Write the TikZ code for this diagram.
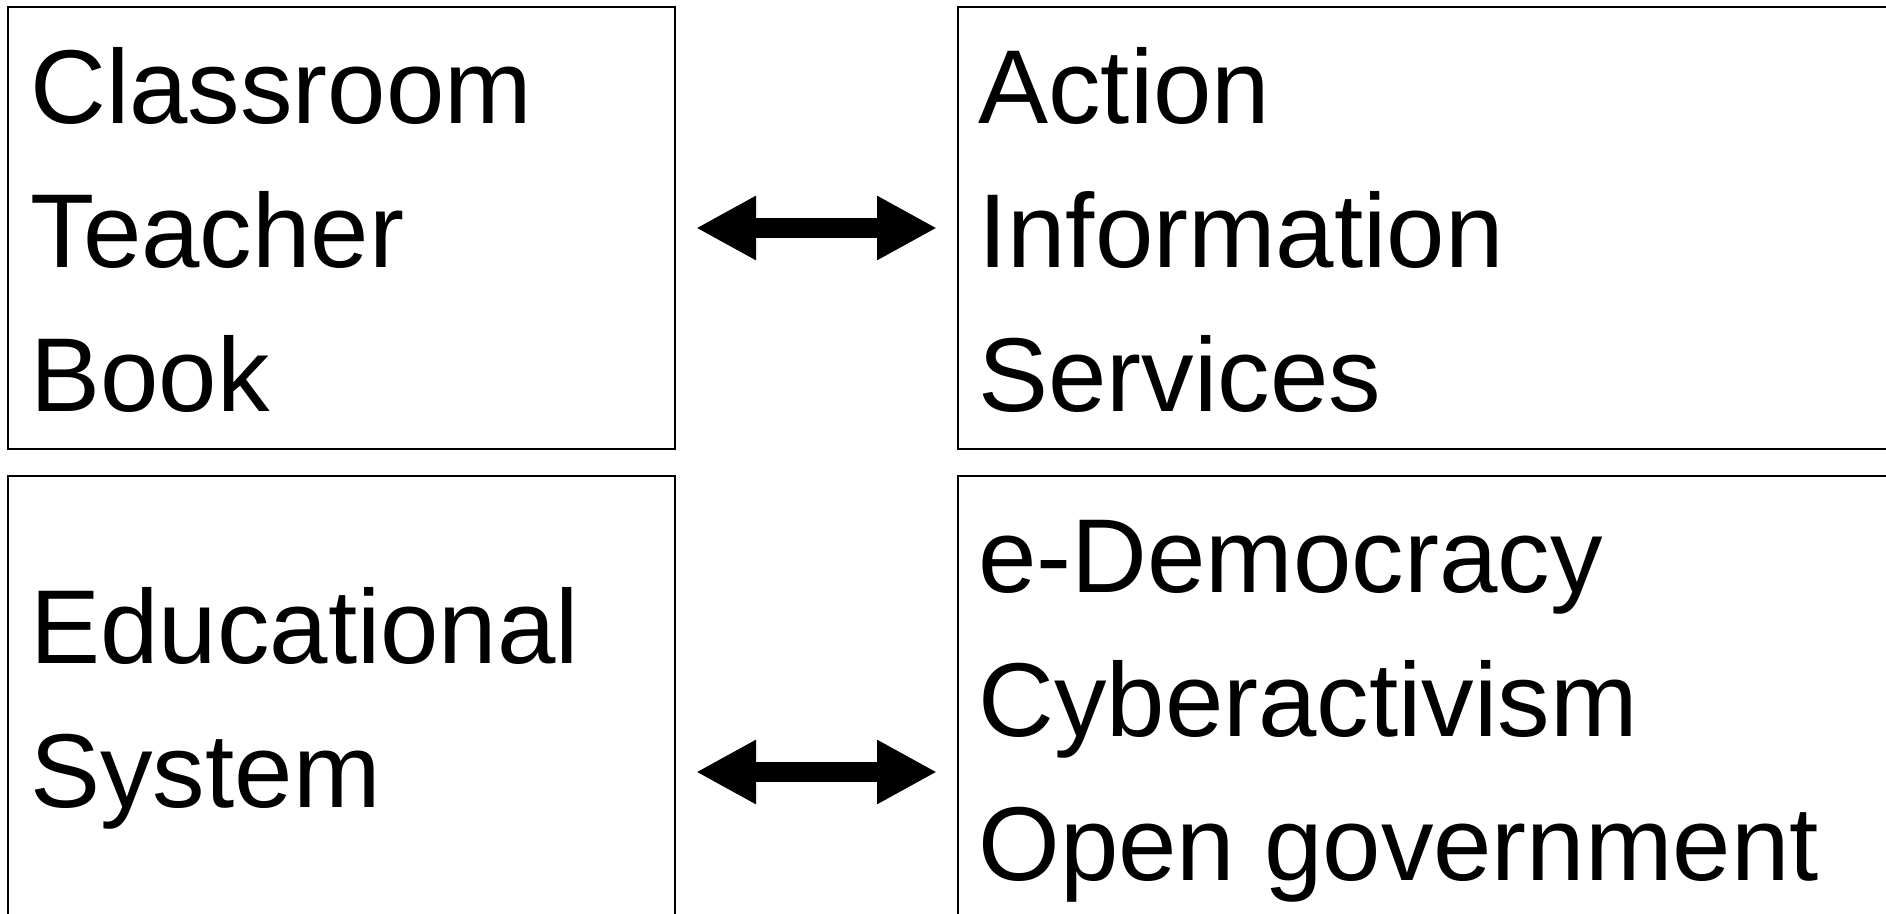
\documentclass[tikz,border=0pt]{standalone}
\usepackage{fontspec}
\setmainfont{Liberation Sans}
\usetikzlibrary{arrows.meta}
\begin{document}
\begin{tikzpicture}[x=0.5pt,y=-0.5pt,
  box/.style={draw, line width=0.8pt, rectangle, inner sep=0pt, outer sep=0pt, anchor=north west},
  txt/.style={align=left, anchor=base west, inner sep=0pt, font=\fontsize{52.5}{72}\selectfont},
  dblarrow/.style={line width=10pt, {Triangle[length=30pt,width=30pt]}-{Triangle[length=30pt,width=30pt]}, shorten <=10.5pt, shorten >=10.5pt}]
\useasboundingbox (0,0) rectangle (1886,914);
\clip (0,0) rectangle (1886,914);
\node[box, minimum width=333.5pt, minimum height=221pt] (bx0) at (8,7){};
\node[box, minimum width=471pt, minimum height=221pt] (bx1) at (958,7){};
\node[box, minimum width=333.5pt, minimum height=296pt] (bx2) at (8,476){};
\node[box, minimum width=471pt, minimum height=296pt] (bx3) at (958,476){};
% anchor is the baseline of the last line
\node[txt] (tx0) at (30,412) {Classroom\\Teacher\\Book};
\node[txt] (tx1) at (978,412) {Action\\Information\\Services};
\node[txt] (tx2) at (30,807) {Educational\\System};
\node[txt] (tx3) at (978,880) {e-Democracy\\Cyberactivism\\Open government};
\draw[dblarrow] (bx0.east) -- (bx1.west);
\draw[dblarrow] (bx2.east) -- (bx3.west);
\end{tikzpicture}
\end{document}
